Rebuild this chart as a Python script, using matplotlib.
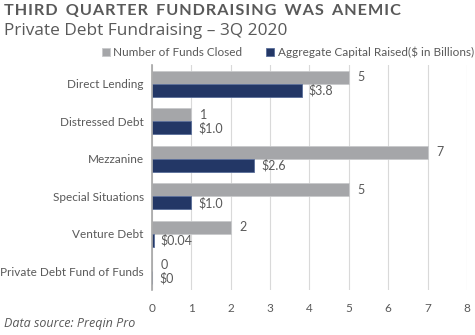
import matplotlib
matplotlib.use("Agg")
import matplotlib.pyplot as plt
import numpy as np

# data
categories = ["Direct Lending", "Distressed Debt", "Mezzanine",
              "Special Situations", "Venture Debt", "Private Debt Fund of Funds"]
funds_closed = [5, 1, 7, 5, 2, 0]
capital_raised = [3.8, 1.0, 2.6, 1.0, 0.04, 0.0]
capital_labels = ["$3.8", "$1.0", "$2.6", "$1.0", "$0.04", "$0"]

gray = "#A5A6A9"
navy = "#233766"
text_gray = "#595959"

plt.rcParams['font.family'] = ['Lato', 'DejaVu Sans']

fig = plt.figure(figsize=(4.75, 3.35), dpi=100)
ax = fig.add_axes([0.32, 0.134, 0.663, 0.672])

y = np.arange(len(categories))
h = 0.35
ax.barh(y - h / 2, funds_closed, height=h, color=gray, edgecolor="#C8C9CB", linewidth=0.6,
        label="Number of Funds Closed", zorder=3)
ax.barh(y + h / 2, capital_raised, height=h, color=navy, edgecolor="#5A6E9A", linewidth=0.6,
        label="Aggregate Capital Raised($ in Billions)", zorder=3)

for i in range(len(categories)):
    ax.text(funds_closed[i] + 0.22, y[i] - h / 2, str(funds_closed[i]),
            va="center", ha="left", fontsize=9, color=text_gray)
    ax.text(capital_raised[i] + 0.18, y[i] + h / 2, capital_labels[i],
            va="center", ha="left", fontsize=9, color=text_gray)

ax.set_xlim(0, 8)
ax.set_ylim(len(categories) - 0.5, -0.5)
ax.set_xticks(range(0, 9))
ax.set_yticks(y)
ax.set_yticklabels(categories)
ax.tick_params(axis="both", length=0, labelsize=8.5, colors=text_gray)
ax.tick_params(axis="x", pad=9)
ax.tick_params(axis="y", pad=6)
ax.grid(axis="x", color="#D9D9D9", linewidth=0.8, zorder=0)
for s in ["top", "right", "bottom"]:
    ax.spines[s].set_visible(False)
ax.spines["left"].set_color("#A6A6A6")
ax.spines["left"].set_linewidth(1.2)
ax.spines["left"].set_zorder(4)

ax.legend(loc="lower right", bbox_to_anchor=(1.045, 1.0), ncol=2, frameon=False,
          fontsize=8.5, handlelength=0.7, handleheight=0.7, handletextpad=0.3,
          columnspacing=2.0, labelcolor=text_gray, borderaxespad=0.2)

title = "T H I R D   Q U A R T E R   F U N D R A I S I N G   W A S   A N E M I C"
title = title.replace("   ", "\u2002").replace(" ", "\u200a")
fig.text(0.008, 0.968, title,
         fontsize=11.7, fontweight="bold", color=text_gray, va="center", ha="left")
fig.text(0.008, 0.908, "Private Debt Fundraising \u2013 3Q 2020",
         fontsize=12.4, color=text_gray, va="center", ha="left",
         family=["Open Sans", "DejaVu Sans"])
fig.text(0.008, 0.034, "Data source: Preqin Pro", fontsize=9, style="italic",
         color=text_gray, va="center", ha="left", family=["Open Sans", "DejaVu Sans"])

fig.savefig("out.png", dpi=100)
